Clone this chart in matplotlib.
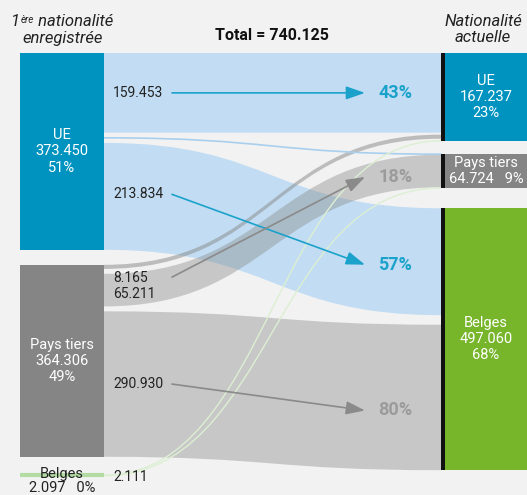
import matplotlib
matplotlib.use("Agg")
import matplotlib.pyplot as plt
from matplotlib.path import Path
from matplotlib.patches import PathPatch, Rectangle

# ---------------- data ----------------
left_names = ["UE", "Pays tiers", "Belges"]
left_values = [373.450, 364.306, 2.097]
left_pcts = [51, 49, 0]
right_names = ["UE", "Pays tiers", "Belges"]
right_values = [167.237, 64.724, 497.060]
right_pcts = [23, 9, 68]
flow_src = [0, 0, 0, 1, 1, 1, 2, 2]
flow_dst = [0, 1, 2, 0, 1, 2, 0, 1]
flow_values = [159.453, 0.163, 213.834, 8.165, 65.211, 290.930, 1.06, 1.05]
belges_out_label = "2.111"
total_label = "740.125"
pct_flows = [0, 2, 4, 5]
pct_values = [43, 57, 18, 80]

# ---------------- style / layout ----------------
W, H = 527, 495
BG = "#f2f2f2"
FONT = "Roboto"
K_NODE = 0.527
K_FLOW = 0.5
LX0, LX1 = 20, 104
RX0, RX1 = 441, 527
TOP = 53
left_gaps = [15, 18]
right_gaps = [13, 20]
node_colors = ["#0093c0", "#858585", "#77b52b"]
src_colors = ["#c2ddf3", "#888888", "#dcefd2"]
src_alpha = [1.0, 0.4, 1.0]
pct_colors = {0: "#1ba2cb", 1: "#9b9b9b"}
arrow_colors = {0: "#1ba2cb", 1: "#8a8a8a"}
pct_dy = [0, 3, 6, 13]
TXT = "#222222"
FS_NUM = 10
FS_NODE = 10.5
FS_PCT = 13
FS_HEAD = 12
LSP = 1.2

plt.rcParams["font.family"] = [FONT, "DejaVu Sans"]

fig = plt.figure(figsize=(W / 100, H / 100), dpi=100, facecolor=BG)
ax = fig.add_axes([0, 0, 1, 1])
ax.set_xlim(0, W)
ax.set_ylim(H, 0)
ax.axis("off")
ax.set_facecolor(BG)


def fmt(v):
    return f"{v:.3f}"


def node_tops(values, gaps):
    tops, y = [], TOP
    for i, v in enumerate(values):
        tops.append(y)
        y += v * K_NODE
        if i < len(gaps):
            y += gaps[i]
    return tops


ltops = node_tops(left_values, left_gaps)
rtops = node_tops(right_values, right_gaps)
lh = [v * K_NODE for v in left_values]
rh = [v * K_NODE for v in right_values]


def stack(top, height, idx):
    hs = [flow_values[i] * K_FLOW for i in idx]
    gap = (height - sum(hs)) / (len(hs) - 1) if len(hs) > 1 else 0
    pos, y = {}, top
    for i, h in zip(idx, hs):
        pos[i] = (y, y + h)
        y += h + gap
    return pos


lpos, rpos = {}, {}
for n in range(len(left_values)):
    idx = sorted([i for i in range(len(flow_values)) if flow_src[i] == n], key=lambda i: flow_dst[i])
    lpos.update(stack(ltops[n], lh[n], idx))
for n in range(len(right_values)):
    idx = sorted([i for i in range(len(flow_values)) if flow_dst[i] == n], key=lambda i: flow_src[i])
    rpos.update(stack(rtops[n], rh[n], idx))

XM = (LX1 + RX0) / 2


def band_path(a0, b0, a1, b1):
    verts = [(LX1, a0), (XM, a0), (XM, a1), (RX0, a1), (RX0, b1),
             (XM, b1), (XM, b0), (LX1, b0), (LX1, a0)]
    codes = [Path.MOVETO, Path.CURVE4, Path.CURVE4, Path.CURVE4, Path.LINETO,
             Path.CURVE4, Path.CURVE4, Path.CURVE4, Path.CLOSEPOLY]
    return Path(verts, codes)


def line_path(y0, y1):
    verts = [(LX1, y0), (XM, y0), (XM, y1), (RX0, y1)]
    codes = [Path.MOVETO, Path.CURVE4, Path.CURVE4, Path.CURVE4]
    return Path(verts, codes)


# draw order: blue bands, gray bands, thin lines
order = sorted(range(len(flow_values)), key=lambda i: (flow_src[i] != 0, flow_values[i] < 1))
for i in order:
    s = flow_src[i]
    a0, b0 = lpos[i]
    a1, b1 = rpos[i]
    if flow_values[i] * K_FLOW >= 1.5:
        alpha = src_alpha[s] if flow_values[i] > 20 or s != 1 else 0.5
        ax.add_patch(PathPatch(band_path(a0, b0, a1, b1), facecolor=src_colors[s],
                               edgecolor="none", alpha=alpha, zorder=2 + s))
    else:
        col = "#a9cfee" if s == 0 else src_colors[s]
        lw = 1.2 if s == 0 else 1.0
        ax.add_patch(PathPatch(line_path((a0 + b0) / 2, (a1 + b1) / 2), facecolor="none",
                               edgecolor=col, lw=lw, zorder=4))

# nodes
for n in range(len(left_values)):
    if lh[n] > 5:
        ax.add_patch(Rectangle((LX0, ltops[n]), LX1 - LX0, lh[n], facecolor=node_colors[n],
                               edgecolor="none", zorder=5))
    else:
        yc = ltops[n] + lh[n] / 2
        ax.plot([LX0, LX1], [yc, yc], color="#b3dba4", lw=3, zorder=5, solid_capstyle="butt")
for n in range(len(right_values)):
    ax.add_patch(Rectangle((RX0 + 4, rtops[n]), RX1 - RX0 - 4, rh[n], facecolor=node_colors[n],
                           edgecolor="none", zorder=5))
    ax.add_patch(Rectangle((RX0, rtops[n]), 4, rh[n], facecolor="#111111",
                           edgecolor="none", zorder=6))

# node labels
LCX = (LX0 + LX1) / 2
RCX = (RX0 + 4 + RX1) / 2
for n in range(len(left_values)):
    yc = ltops[n] + lh[n] / 2
    if lh[n] > 5:
        ax.text(LCX, yc, f"{left_names[n]}\n{fmt(left_values[n])}\n{left_pcts[n]}%", color="white",
                fontsize=FS_NODE, ha="center", va="center", linespacing=LSP, zorder=7)
    else:
        ax.text(LCX, yc - 1, left_names[n], color=TXT, fontsize=FS_NODE, ha="center", va="center", zorder=7)
        ax.text(LCX, yc + 13, f"{fmt(left_values[n])}   {left_pcts[n]}%", color=TXT, fontsize=FS_NODE,
                ha="center", va="center", zorder=7)
for n in range(len(right_values)):
    yc = rtops[n] + rh[n] / 2
    if rh[n] > 60:
        s = f"{right_names[n]}\n{fmt(right_values[n])}\n{right_pcts[n]}%"
    else:
        s = f"{right_names[n]}\n{fmt(right_values[n])}   {right_pcts[n]}%"
    ax.text(RCX, yc, s, color="white", fontsize=FS_NODE, ha="center", va="center",
            linespacing=LSP, zorder=7)

# flow value labels and arrows
LBLX = 113
ARR_X0, ARR_X1 = 172, 365
PCTX = 378
lab_y = {}
for i in range(len(flow_values)):
    lab_y[i] = sum(lpos[i]) / 2

ax.text(LBLX, lab_y[0], fmt(flow_values[0]), color=TXT, fontsize=FS_NUM, va="center", zorder=8)
ax.text(LBLX, lab_y[2] - 2, fmt(flow_values[2]), color=TXT, fontsize=FS_NUM, va="center", zorder=8)
ax.text(LBLX, lab_y[4] - 12, fmt(flow_values[3]), color=TXT, fontsize=FS_NUM, va="center", zorder=8)
ax.text(LBLX, lab_y[4] + 4, fmt(flow_values[4]), color=TXT, fontsize=FS_NUM, va="center", zorder=8)
ax.text(LBLX, lab_y[5], fmt(flow_values[5]), color=TXT, fontsize=FS_NUM, va="center", zorder=8)
ax.text(LBLX, ltops[2] + lh[2] / 2 + 2, belges_out_label, color=TXT, fontsize=FS_NUM, va="center", zorder=8)

start_y = {0: lab_y[0], 2: lab_y[2] - 2, 4: lab_y[4] - 13, 5: lab_y[5]}
for k, (i, p) in enumerate(zip(pct_flows, pct_values)):
    s = flow_src[i]
    yend = sum(rpos[i]) / 2 + pct_dy[k]
    ax.annotate("", xy=(ARR_X1, yend), xytext=(ARR_X0, start_y[i]),
                arrowprops=dict(arrowstyle="-|>,head_length=1.15,head_width=0.4",
                                color=arrow_colors[s], lw=1.2, mutation_scale=10,
                                shrinkA=0, shrinkB=0), zorder=9)
    ax.text(PCTX, yend, f"{p}%", color=pct_colors[s], fontsize=FS_PCT, fontweight="bold",
            va="center", ha="left", zorder=9)

# headers
t1 = ax.text(11, 26, "1", fontsize=FS_HEAD, style="italic", color=TXT, ha="left", va="baseline")
t2 = ax.annotate("ère", xy=(1, 1), xycoords=t1, xytext=(0.5, -0.5), textcoords="offset points",
                 fontsize=7, style="italic", color=TXT, ha="left", va="top")
ax.annotate(" nationalité", xy=(1, 0), xycoords=(t2, t1), fontsize=FS_HEAD, style="italic",
            color=TXT, ha="left", va="bottom")
ax.text(LCX + 1, 38, "enregistrée", fontsize=FS_HEAD, style="italic", color=TXT, ha="center", va="center")
ax.text(272, 35, f"Total = {total_label}", fontsize=11.5, fontweight="bold", color="#111111",
        ha="center", va="center")
ax.text(RCX - 3, 21, "Nationalité", fontsize=FS_HEAD, style="italic", color=TXT, ha="center", va="center")
ax.text(RCX - 3, 38, "actuelle", fontsize=FS_HEAD, style="italic", color=TXT, ha="center", va="center")

fig.savefig("out.png", dpi=100, facecolor=BG)
